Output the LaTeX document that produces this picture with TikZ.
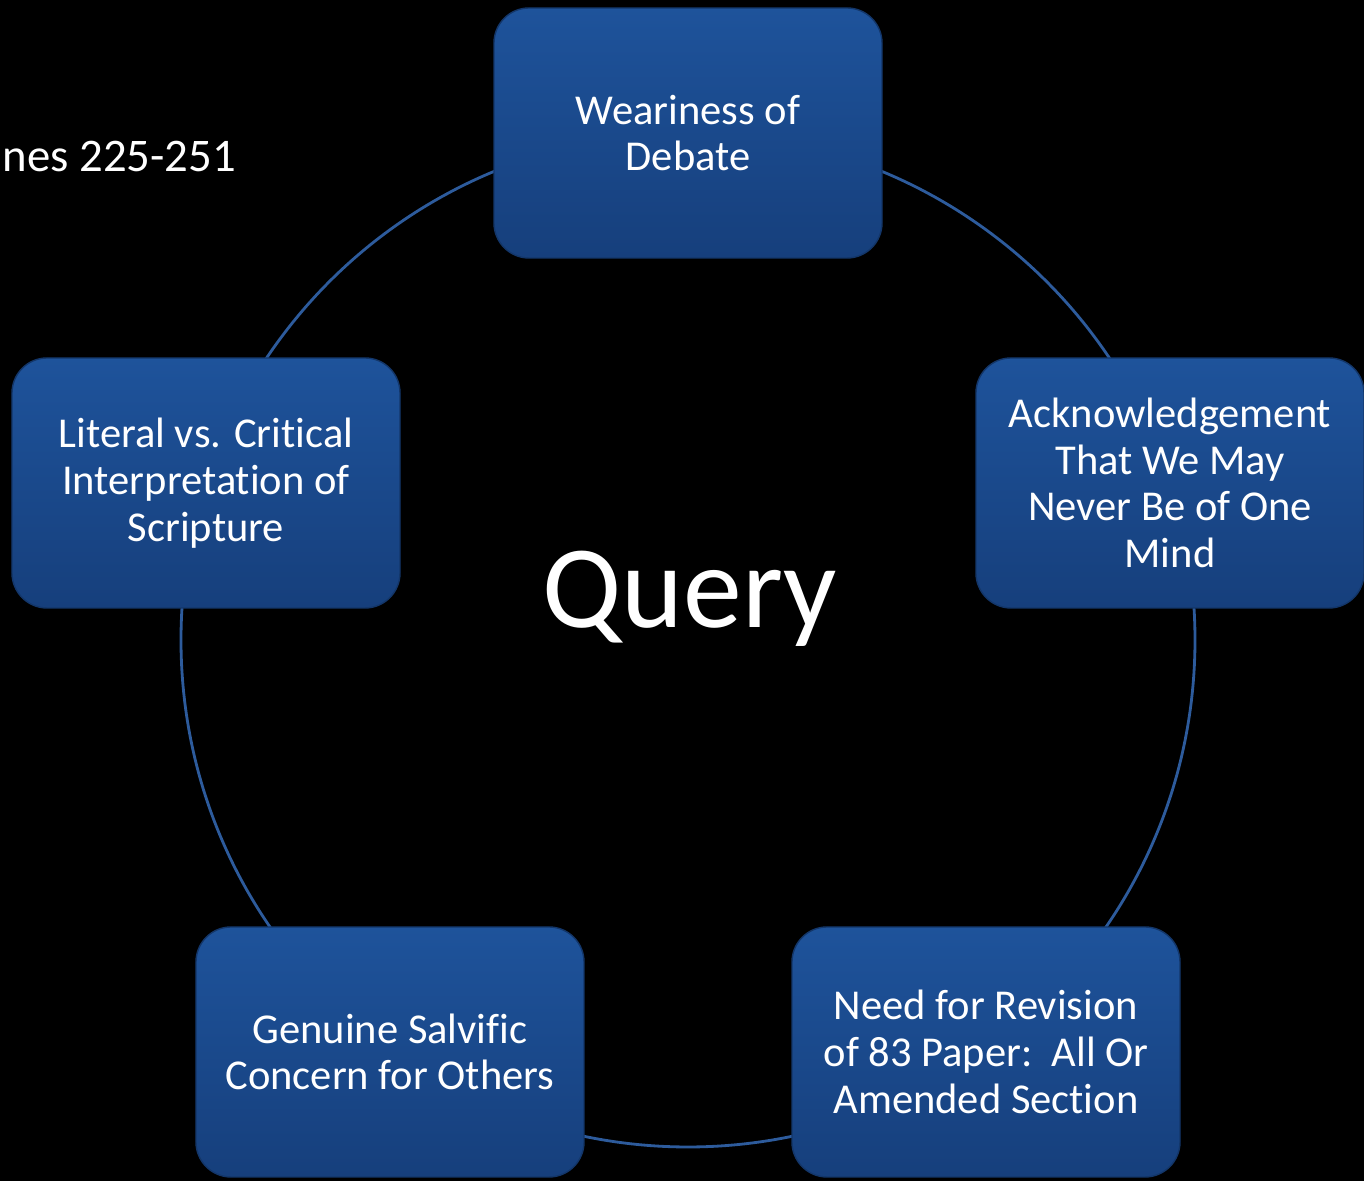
\documentclass[tikz,border=0pt]{standalone}
\usepackage{fontspec}
\setmainfont{Carlito}[Ligatures=NoCommon]
\usetikzlibrary{positioning}
\definecolor{boxtop}{HTML}{1E539B}
\definecolor{boxbot}{HTML}{163F7C}
\definecolor{ringblue}{HTML}{2D5B9C}

\begin{document}
\begin{tikzpicture}
 \tikzstyle{querybox}=[rectangle,rounded corners=0.35cm,draw=boxbot!85!black,
   top color=boxtop,bottom color=boxbot,minimum width=3.88cm,minimum height=2.5cm,
   align=center,text=white,font=\fontsize{12.1}{13.3}\selectfont]
 \useasboundingbox (0,0) rectangle (13.64,11.81);
 \fill[black] (0,0) rectangle (13.64,11.81);
 % ring behind the five boxes
 \coordinate (hub) at (6.88,5.41);
 \draw[ringblue,line width=0.8pt] (hub) circle (5.07);
 \node (lines) [anchor=base west,inner xsep=0pt,text=white,
   font=\fontsize{13.3}{16}\selectfont] at (0.02,10.09) {nes 225-251};
 \node (query) [anchor=base,text=white,font=\fontsize{33.5}{40}\selectfont]
   at (6.90,5.53) {Query};
 \node (weary) [querybox] at (6.88,10.48) {Weariness of\\Debate};
 \node (mind) [querybox] at (11.70,6.98)
   {Acknowledgement\\That We May\\Never Be of One\\Mind};
 \node (paper) [querybox] at (9.86,1.29)
   {Need for Revision\\of 83 Paper:\ \ All Or\\Amended Section};
 \node (others) [querybox] at (3.90,1.29)
   {Genuine Salvific\\Concern for Others};
 \node (scripture) [querybox] at (2.06,6.98)
   {Literal vs. Critical\\Interpretation of\\Scripture};
\end{tikzpicture}
\end{document}
